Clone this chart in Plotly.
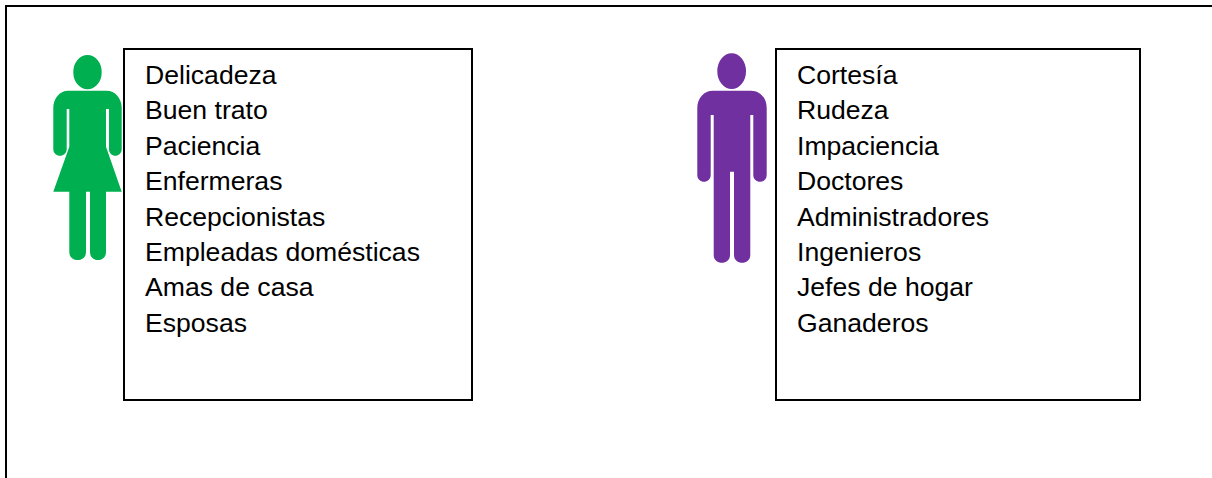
import plotly.graph_objects as go

WIDTH = 1212
HEIGHT = 478

# --- Text lists ---
female_traits = ["Delicadeza", "Buen trato", "Paciencia", "Enfermeras",
                 "Recepcionistas", "Empleadas domésticas", "Amas de casa", "Esposas"]
male_traits = ["Cortesía", "Rudeza", "Impaciencia", "Doctores",
               "Administradores", "Ingenieros", "Jefes de hogar", "Ganaderos"]
line_centers = [75, 110, 146, 181, 217, 252, 287, 323]

GREEN = "#00B050"
PURPLE = "#7030A0"

# Pictogram outlines in page pixels
female_body = (
    "M 53.3 108 C 53.3 98 60 90.7 68.3 90.7 H 106.7 C 115 90.7 121.7 98 121.7 108 V 149 "
    "C 121.7 158 109 158 109 149 V 109 H 106 V 146.7 L 121.7 191.7 H 106 V 252 "
    "C 106 262.7 90 262.7 90 252 V 191.7 H 86 V 252 C 86 262.7 69.3 262.7 69.3 252 "
    "V 191.7 H 53.3 L 69.3 146.7 V 109 H 66.7 V 149 C 66.7 158 53.3 158 53.3 149 Z"
)
male_body = (
    "M 697.3 108 C 697.3 98 704 90.7 713 90.7 H 751 C 760 90.7 766.7 98 766.7 108 V 175 "
    "C 766.7 184 753.3 184 753.3 175 V 115 H 750.3 V 255 "
    "C 750.3 265.4 734 265.4 734 255 V 171.7 H 730 V 255 "
    "C 730 265.4 713.7 265.4 713.7 255 V 115 H 710.7 V 175 "
    "C 710.7 184 697.3 184 697.3 175 Z"
)

fig = go.Figure()

shapes = []
# outer frame: only the top and left edges fall inside the picture
shapes.append(dict(type="line", x0=5.5, x1=WIDTH, y0=6, y1=6, line=dict(color="black", width=2)))
shapes.append(dict(type="line", x0=6, x1=6, y0=5, y1=HEIGHT, line=dict(color="black", width=2)))

# text boxes
shapes.append(dict(type="rect", x0=124, x1=472, y0=49, y1=400, line=dict(color="black", width=2)))
shapes.append(dict(type="rect", x0=776, x1=1140, y0=49, y1=400, line=dict(color="black", width=2)))

# female figure
shapes.append(dict(type="circle", x0=73.3, x1=101.7, y0=55, y1=89.3, fillcolor=GREEN, line_width=0))
shapes.append(dict(type="path", path=female_body, fillcolor=GREEN, line_width=0))

# male figure
shapes.append(dict(type="circle", x0=717.3, x1=746, y0=53.3, y1=89, fillcolor=PURPLE, line_width=0))
shapes.append(dict(type="path", path=male_body, fillcolor=PURPLE, line_width=0))

annotations = []
for labels, left in ((female_traits, 145), (male_traits, 797)):
    for label, y in zip(labels, line_centers):
        annotations.append(dict(x=left, y=y, text=label, showarrow=False,
                                xanchor="left", yanchor="middle", xshift=-2,
                                font=dict(family="Liberation Sans", size=26.6, color="black")))

fig.update_layout(
    width=WIDTH,
    height=HEIGHT,
    margin=dict(l=0, r=0, t=0, b=0),
    paper_bgcolor="white",
    plot_bgcolor="white",
    showlegend=False,
    xaxis=dict(range=[0, WIDTH], visible=False, fixedrange=True),
    yaxis=dict(range=[HEIGHT, 0], visible=False, fixedrange=True),
    shapes=shapes,
    annotations=annotations,
)

# the page's default 8px body margin would push everything off position
fig.write_html("out.html", config=dict(displayModeBar=False),
               post_script="document.body.style.margin = '0';")
